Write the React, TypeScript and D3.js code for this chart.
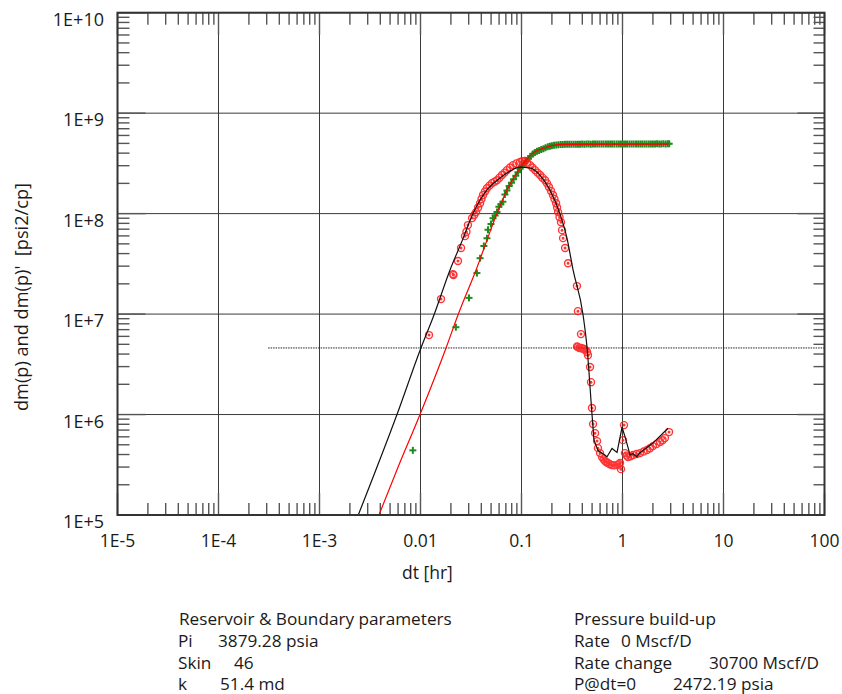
import React from "react";
import * as d3 from "d3";

const WIDTH = 842;
const HEIGHT = 694;
const PLOT = { left: 117.5, right: 824.5, top: 12.7, bottom: 515 };
const FONT = "'Open Sans', 'Noto Sans', sans-serif";

// pressure change dm(p) - green crosses
const dpTime = [
  0.0084, 0.0224, 0.0302, 0.0362, 0.0389, 0.0424, 0.0455, 0.0466, 0.0499, 0.0522,
  0.0548, 0.0572, 0.0597, 0.0625, 0.0654, 0.0685, 0.0718, 0.0755, 0.0795, 0.0835,
  0.0878, 0.0922, 0.0968, 0.1015, 0.1065, 0.1118, 0.1173, 0.1232, 0.1293, 0.1357,
  0.1425, 0.1496, 0.157, 0.165, 0.173, 0.182, 0.191, 0.2, 0.21, 0.221,
  0.232, 0.244, 0.256, 0.269, 0.283, 0.297, 0.312, 0.328, 0.345, 0.362,
  0.38, 0.399, 0.419, 0.44, 0.462, 0.485, 0.51, 0.535, 0.562, 0.59,
  0.62, 0.65, 0.685, 0.72, 0.755, 0.79, 0.83, 0.875, 0.92, 0.965,
  1.01, 1.06, 1.11, 1.17, 1.23, 1.29, 1.36, 1.43, 1.5, 1.57,
  1.65, 1.73, 1.82, 1.91, 2.0, 2.1, 2.2, 2.31, 2.42, 2.54,
  2.67, 2.8, 2.9,
];
const dpValue = [
  4.4e5, 7.4e6, 1.45e7, 2.56e7, 3.6e7, 4.76e7, 5.7e7, 6.9e7, 7.9e7, 9.0e7,
  9.6e7, 1.04e8, 1.17e8, 1.24e8, 1.31e8, 1.55e8, 1.7e8, 1.88e8, 2.03e8, 2.2e8,
  2.38e8, 2.58e8, 2.8e8, 3.02e8, 3.18e8, 3.35e8, 3.53e8, 3.72e8, 3.92e8, 4.07e8,
  4.17e8, 4.26e8, 4.35e8, 4.43e8, 4.52e8, 4.62e8, 4.69e8, 4.74e8, 4.78e8, 4.82e8,
  4.85e8, 4.87e8, 4.88e8, 4.89e8, 4.9e8, 4.9e8, 4.91e8, 4.91e8, 4.9e8, 4.91e8,
  4.91e8, 4.92e8, 4.91e8, 4.92e8, 4.92e8, 4.91e8, 4.92e8, 4.92e8, 4.93e8, 4.92e8,
  4.92e8, 4.93e8, 4.92e8, 4.93e8, 4.93e8, 4.92e8, 4.93e8, 4.93e8, 4.93e8, 4.92e8,
  4.93e8, 4.93e8, 4.94e8, 4.93e8, 4.93e8, 4.94e8, 4.93e8, 4.94e8, 4.94e8, 4.93e8,
  4.94e8, 4.94e8, 4.94e8, 4.93e8, 4.94e8, 4.94e8, 4.95e8, 4.94e8, 4.94e8, 4.95e8,
  4.94e8, 4.95e8, 4.95e8,
];

// derivative dm(p)' - red circles
const derTime = [
  0.01214, 0.01596, 0.021, 0.0212, 0.0235, 0.0252, 0.0276, 0.0285, 0.0295, 0.0324,
  0.034, 0.0355, 0.0372, 0.0389, 0.0402, 0.0416, 0.0435, 0.0455, 0.0482, 0.051,
  0.054, 0.0572, 0.0605, 0.0641, 0.068, 0.0718, 0.077, 0.0824, 0.089, 0.0967,
  0.102, 0.108, 0.114, 0.1214, 0.128, 0.136, 0.144, 0.1525, 0.161, 0.171,
  0.179, 0.187, 0.196, 0.205, 0.212, 0.22, 0.225, 0.23, 0.238, 0.246,
  0.252, 0.258, 0.27, 0.289, 0.354, 0.362, 0.388, 0.355, 0.362, 0.375,
  0.388, 0.402, 0.416, 0.43, 0.446, 0.455, 0.477, 0.488, 0.499, 0.511,
  0.535, 0.56, 0.572, 0.599, 0.627, 0.65, 0.671, 0.695, 0.718, 0.75,
  0.787, 0.83, 0.883, 0.92, 0.945, 0.966, 1.011, 1.035, 1.059, 1.1,
  1.133, 1.2, 1.27, 1.38, 1.49, 1.62, 1.75, 1.87, 2.0, 2.17,
  2.35, 2.49, 2.63, 2.89,
];
const derValue = [
  6.18e6, 1.41e7, 2.5e7, 2.45e7, 3.37e7, 4.54e7, 5.97e7, 6.6e7, 7.69e7, 9.02e7,
  9.7e7, 1.035e8, 1.15e8, 1.27e8, 1.4e8, 1.53e8, 1.66e8, 1.79e8, 1.9e8, 2.01e8,
  2.08e8, 2.15e8, 2.28e8, 2.42e8, 2.56e8, 2.71e8, 2.88e8, 3.04e8, 3.16e8, 3.26e8,
  3.32e8, 3.34e8, 3.22e8, 3.04e8, 2.88e8, 2.71e8, 2.56e8, 2.42e8, 2.28e8, 2.15e8,
  2.0e8, 1.84e8, 1.68e8, 1.53e8, 1.4e8, 1.27e8, 1.15e8, 1.035e8, 9.2e7, 8.22e7,
  6.85e7, 5.7e7, 4.54e7, 3.21e7, 1.9e7, 1.07e7, 6.32e6, 4.75e6, 4.69e6, 4.6e6,
  4.6e6, 4.55e6, 4.5e6, 4.35e6, 4.2e6, 3.9e6, 2.97e6, 2.1e6, 1.16e6, 8.03e5,
  6.53e5, 5.44e5, 4.63e5, 4.13e5, 3.77e5, 3.58e5, 3.44e5, 3.35e5, 3.29e5, 3.2e5,
  3.14e5, 3.12e5, 3.14e5, 3.2e5, 3.29e5, 2.86e5, 5.56e5, 7.85e5, 4.13e5, 3.9e5,
  3.77e5, 3.85e5, 3.95e5, 4.05e5, 4.13e5, 4.28e5, 4.43e5, 4.62e5, 4.85e5, 5.08e5,
  5.32e5, 5.55e5, 5.83e5, 6.69e5,
];

// model pressure change - red line
const modelPTime = [0.00388, 0.006, 0.00989, 0.0179, 0.0235, 0.0355, 0.0571, 0.0718, 0.0989, 0.13, 0.179, 0.24, 2.85];
const modelPValue = [1e5, 3.0e5, 1e6, 4.6e6, 9.8e6, 2.75e7, 1e8, 1.72e8, 2.91e8, 4.0e8, 4.6e8, 4.9e8, 4.92e8];

// model derivative - black line (smooth part, then the noisy tail)
const modelDTime = [
  0.00242, 0.00585, 0.0101, 0.0136, 0.0196, 0.026, 0.0331, 0.0455, 0.0612, 0.077,
  0.0966, 0.121, 0.152, 0.191, 0.24, 0.283, 0.324, 0.407, 0.446, 0.499,
  0.522, 0.571, 0.703, 0.787, 0.883, 0.99, 1.06, 1.19, 1.26, 1.39,
  1.46, 2.0, 2.82,
];
const modelDValue = [
  1e5, 1e6, 4.6e6, 9.8e6, 2.75e7, 5.45e7, 1e8, 1.72e8, 2.26e8, 2.65e8,
  2.9e8, 2.85e8, 2.42e8, 1.72e8, 1e8, 5.6e7, 2.75e7, 9.8e6, 4.6e6, 1e6,
  5.6e5, 4.4e5, 3.8e5, 4.6e5, 4.2e5, 7.5e5, 6.0e5, 3.95e5, 4.1e5, 3.8e5,
  4.1e5, 5.2e5, 7.3e5,
];
const smoothCount = 21;

// horizontal dotted line
const stabTime = [3.1e-4, 100];
const stabValue = 4.6e6;

const xTickLabels = ["1E-5", "1E-4", "1E-3", "0.01", "0.1", "1", "10", "100"];
const yTickLabels = ["1E+5", "1E+6", "1E+7", "1E+8", "1E+9", "1E+10"];

const leftTitle = "Reservoir & Boundary parameters";
const leftLabels = ["Pi", "Skin", "k"];
const leftValues = ["3879.28 psia", "46", "51.4 md"];
const rightTitle = "Pressure build-up";
const rightLabels = ["Rate", "Rate change", "P@dt=0"];
const rightValues = ["0 Mscf/D", "30700 Mscf/D", "2472.19 psia"];

const zip = (ts: number[], vs: number[]) => ts.map((t, i) => [t, vs[i]] as [number, number]);

const App = () => {
  const x = d3.scaleLog().domain([1e-5, 100]).range([PLOT.left, PLOT.right]);
  const y = d3.scaleLog().domain([1e5, 1e10]).range([PLOT.bottom, PLOT.top]);

  const xDecades = d3.range(-5, 3).map(e => Math.pow(10, e));
  const yDecades = d3.range(5, 11).map(e => Math.pow(10, e));
  const minor = (lo: number, hi: number) => {
    const out: number[] = [];
    d3.range(lo, hi).forEach(e => d3.range(2, 10).forEach(m => out.push(m * Math.pow(10, e))));
    return out;
  };
  const xMinor = minor(-5, 2);
  const yMinor = minor(5, 10);

  const smooth = d3
    .line<[number, number]>()
    .x(d => x(d[0]))
    .y(d => y(d[1]))
    .curve(d3.curveMonotoneX);
  const straight = d3
    .line<[number, number]>()
    .x(d => x(d[0]))
    .y(d => y(d[1]));

  const dp = zip(dpTime, dpValue);
  const der = zip(derTime, derValue);
  const modelP = zip(modelPTime, modelPValue);
  const modelD = zip(modelDTime, modelDValue);

  const titleY = 625;
  const rowY = [647, 669, 690];
  const leftX = 178;
  const leftValueX = [218, 234, 220];
  const rightX = 574;
  const rightValueX = [621, 709, 673];

  return (
    <svg
      width={WIDTH}
      height={HEIGHT}
      style={{ position: "absolute", left: 0, top: 0, background: "#fff" }}
      fontFamily={FONT}
    >
      <defs>
        <clipPath id="plot-clip">
          <rect x={PLOT.left} y={PLOT.top} width={PLOT.right - PLOT.left} height={PLOT.bottom - PLOT.top} />
        </clipPath>
      </defs>

      {/* grid */}
      <g stroke="#3a3a3a" strokeWidth={1}>
        {xDecades.map((d, i) => (
          <line key={"gx" + i} x1={x(d)} x2={x(d)} y1={PLOT.top} y2={PLOT.bottom} />
        ))}
        {yDecades.map((d, i) => (
          <line key={"gy" + i} x1={PLOT.left} x2={PLOT.right} y1={y(d)} y2={y(d)} />
        ))}
      </g>

      {/* ticks */}
      <g stroke="#555" strokeWidth={1.4}>
        {xMinor.map((d, i) => (
          <g key={"xm" + i}>
            <line x1={x(d)} x2={x(d)} y1={PLOT.bottom} y2={PLOT.bottom - 12} />
            <line x1={x(d)} x2={x(d)} y1={PLOT.top} y2={PLOT.top + 12} />
          </g>
        ))}
        {xDecades.map((d, i) => (
          <g key={"xd" + i}>
            <line x1={x(d)} x2={x(d)} y1={PLOT.bottom} y2={PLOT.bottom - 22} />
            <line x1={x(d)} x2={x(d)} y1={PLOT.top} y2={PLOT.top + 22} />
          </g>
        ))}
        {yMinor.map((d, i) => (
          <g key={"ym" + i}>
            <line x1={PLOT.left} x2={PLOT.left + 12} y1={y(d)} y2={y(d)} />
            <line x1={PLOT.right} x2={PLOT.right - 11} y1={y(d)} y2={y(d)} />
          </g>
        ))}
        {yDecades.map((d, i) => (
          <g key={"yd" + i}>
            <line x1={PLOT.left} x2={PLOT.left + 28} y1={y(d)} y2={y(d)} />
            <line x1={PLOT.right} x2={PLOT.right - 27} y1={y(d)} y2={y(d)} />
          </g>
        ))}
      </g>

      {/* data */}
      <g clipPath="url(#plot-clip)">
        <line
          x1={x(stabTime[0])}
          x2={x(stabTime[1])}
          y1={y(stabValue)}
          y2={y(stabValue)}
          stroke="#222"
          strokeWidth={1}
          strokeDasharray="1.5 1"
        />
        <g stroke="#1e8c1e" strokeWidth={2}>
          {dp.map((d, i) => (
            <g key={"dp" + i} transform={`translate(${x(d[0])},${y(d[1])})`}>
              <line x1={-3.5} x2={3.5} y1={0} y2={0} />
              <line x1={0} x2={0} y1={-3.5} y2={3.5} />
            </g>
          ))}
        </g>
        <g stroke="#ff1a1a" fill="none" strokeWidth={1.4} opacity={0.88}>
          {der.map((d, i) => (
            <g key={"der" + i} transform={`translate(${x(d[0])},${y(d[1])})`}>
              <circle r={3.5} />
              <circle r={0.8} fill="#ff1a1a" />
            </g>
          ))}
        </g>
        <path d={smooth(modelP) || ""} fill="none" stroke="#ff0000" strokeWidth={1.2} />
        <path d={smooth(modelD.slice(0, smoothCount)) || ""} fill="none" stroke="#111" strokeWidth={1.2} />
        <path d={straight(modelD.slice(smoothCount - 1)) || ""} fill="none" stroke="#111" strokeWidth={1.2} />
      </g>

      {/* frame */}
      <rect
        x={PLOT.left}
        y={PLOT.top}
        width={PLOT.right - PLOT.left}
        height={PLOT.bottom - PLOT.top}
        fill="none"
        stroke="#333"
        strokeWidth={2}
      />

      {/* tick labels */}
      <g fill="#1a1a1a">
        {xDecades.map((d, i) => (
          <text key={"xl" + i} x={x(d)} y={547} textAnchor="middle" fontSize={17.5}>
            {xTickLabels[i]}
          </text>
        ))}
        {yDecades.map((d, i) => (
          <text key={"yl" + i} x={104} y={y(d) + 13} textAnchor="end" fontSize={18}>
            {yTickLabels[i]}
          </text>
        ))}
      </g>

      {/* axis titles */}
      <text x={402} y={579} fontSize={17.5} fill="#1a1a1a">
        dt [hr]
      </text>
      <text transform="translate(28,297) rotate(-90)" textAnchor="middle" fontSize={18.2} fill="#1a1a1a" xmlSpace="preserve">
        {"dm(p) and dm(p)'  [psi2/cp]"}
      </text>

      {/* info block */}
      <g fontSize={17.2} fill="#1a1a1a">
        <text x={leftX + 1} y={titleY}>{leftTitle}</text>
        {leftLabels.map((label, i) => (
          <g key={"li" + i}>
            <text x={leftX} y={rowY[i]}>{label}</text>
            <text x={leftValueX[i]} y={rowY[i]}>{leftValues[i]}</text>
          </g>
        ))}
        <text x={rightX} y={titleY}>{rightTitle}</text>
        {rightLabels.map((label, i) => (
          <g key={"ri" + i}>
            <text x={rightX} y={rowY[i]}>{label}</text>
            <text x={rightValueX[i]} y={rowY[i]}>{rightValues[i]}</text>
          </g>
        ))}
      </g>
    </svg>
  );
};

export default App;
